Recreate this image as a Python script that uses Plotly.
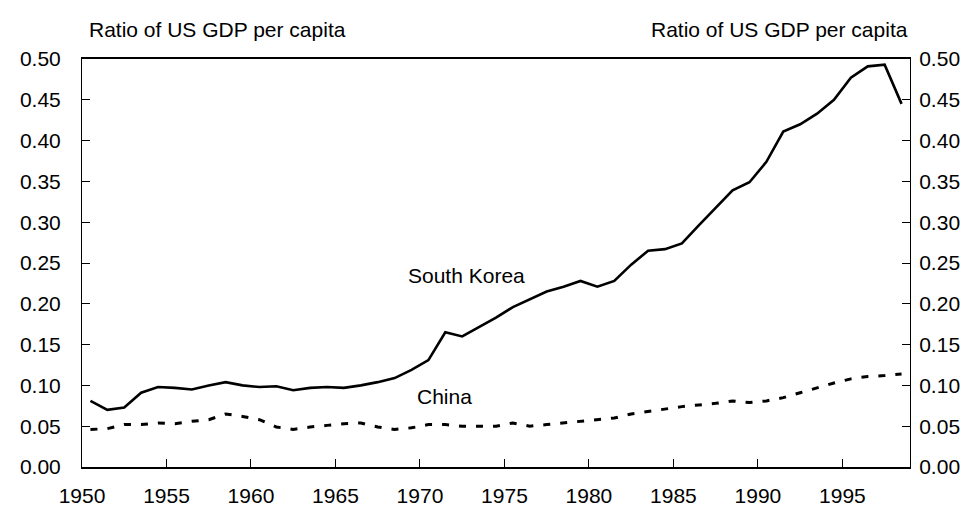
import plotly.graph_objects as go

# Annual data, 1950-1998 (plotted at mid-year)
years = list(range(1950, 1999))
south_korea = [0.081, 0.070, 0.073, 0.091, 0.098, 0.097, 0.095, 0.100, 0.104, 0.100,
               0.098, 0.099, 0.094, 0.097, 0.098, 0.097, 0.100, 0.104, 0.109, 0.119,
               0.131, 0.165, 0.160, 0.171, 0.183, 0.196, 0.206, 0.215, 0.221, 0.228,
               0.221, 0.228, 0.248, 0.265, 0.267, 0.274, 0.296, 0.318, 0.339, 0.349,
               0.374, 0.411, 0.420, 0.433, 0.450, 0.477, 0.491, 0.493, 0.445]
china = [0.046, 0.047, 0.052, 0.052, 0.054, 0.053, 0.056, 0.058, 0.065, 0.062,
         0.058, 0.049, 0.046, 0.049, 0.051, 0.053, 0.054, 0.049, 0.046, 0.048,
         0.052, 0.052, 0.050, 0.050, 0.050, 0.054, 0.050, 0.052, 0.054, 0.056,
         0.058, 0.060, 0.065, 0.068, 0.071, 0.074, 0.076, 0.078, 0.081, 0.079,
         0.081, 0.085, 0.091, 0.097, 0.103, 0.108, 0.111, 0.112, 0.114]
x_ticks = list(range(1950, 2000, 5))
y_title = "Ratio of US GDP per capita"

xmid = [y + 0.5 for y in years]

FONT = "Liberation Sans, Arial, sans-serif"
FS = 21

fig = go.Figure()
fig.add_trace(go.Scatter(x=xmid, y=south_korea, mode="lines", name="South Korea",
                         line=dict(color="black", width=2.6)))
fig.add_trace(go.Scatter(x=xmid, y=china, mode="lines", name="China",
                         line=dict(color="black", width=3, dash="7px,10px")))
fig.add_trace(go.Scatter(x=xmid, y=china, mode="lines", yaxis="y2",
                         line=dict(width=0), hoverinfo="skip", showlegend=False, opacity=0))

axis_common = dict(showgrid=False, zeroline=False, linecolor="black",
                   ticks="inside", ticklen=8, tickcolor="black", tickwidth=1,
                   tickfont=dict(family=FONT, size=FS, color="black"))

fig.update_layout(
    width=968, height=511,
    margin=dict(l=73, r=66, t=51, b=47),
    paper_bgcolor="white", plot_bgcolor="white",
    showlegend=False,
    font=dict(family=FONT, size=FS, color="black"),
    xaxis=dict(range=[1950, 1999], tickvals=x_ticks, showline=True, linewidth=1.5,
               mirror=True, ticklabelstandoff=9, **axis_common),
    yaxis=dict(range=[0, 0.5], dtick=0.05, tick0=0, tickformat=".2f", showline=True,
               linewidth=1, ticklabelstandoff=16, **axis_common),
    yaxis2=dict(range=[0, 0.5], dtick=0.05, tick0=0, tickformat=".2f", showline=True,
                linewidth=1, overlaying="y", side="right", ticklabelstandoff=4,
                **axis_common),
    annotations=[
        dict(text=y_title, xref="paper", yref="paper", x=0.006, y=1.0726,
             xanchor="left", yanchor="middle", showarrow=False,
             font=dict(family=FONT, size=FS, color="black")),
        dict(text=y_title, xref="paper", yref="paper", x=1, y=1.0726,
             xanchor="right", yanchor="middle", showarrow=False,
             font=dict(family=FONT, size=FS, color="black")),
        dict(text="South Korea", x=1972.73, y=0.235, showarrow=False,
             xanchor="center", yanchor="middle",
             font=dict(family=FONT, size=FS, color="black")),
        dict(text="China", x=1971.48, y=0.0869, showarrow=False,
             xanchor="center", yanchor="middle",
             font=dict(family=FONT, size=FS, color="black")),
    ],
)

fig.write_html("out.html")
